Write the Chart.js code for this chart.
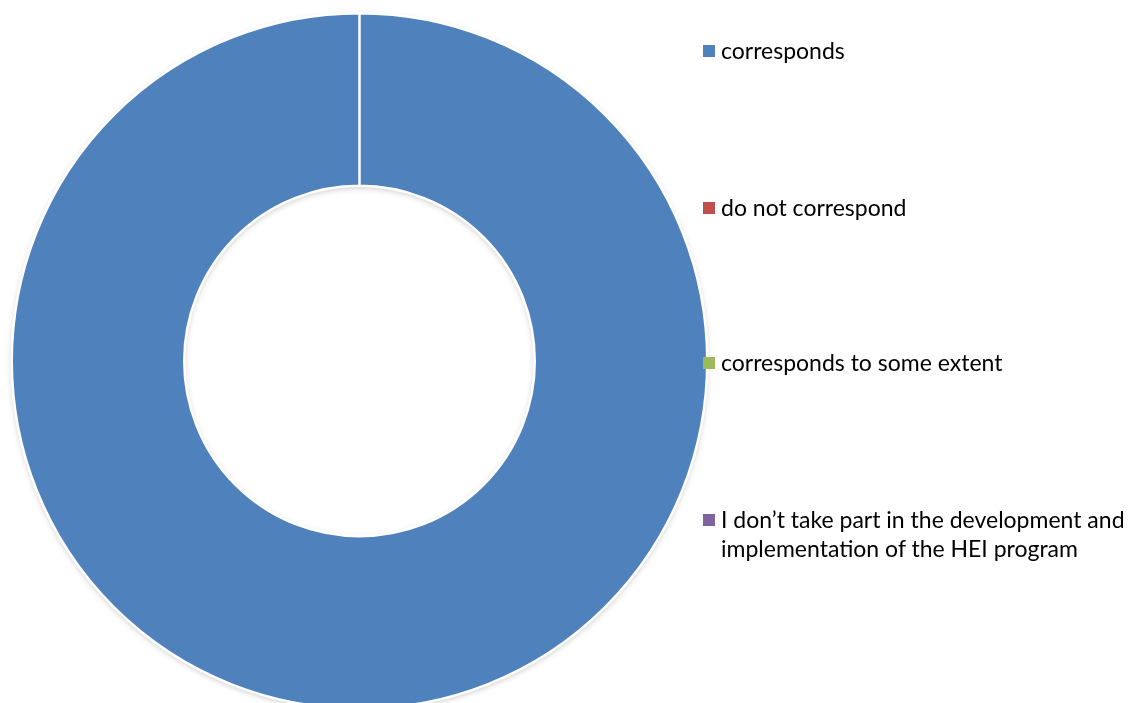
<!DOCTYPE html>
<html>
<head>
<meta charset="utf-8">
<script src="https://cdn.jsdelivr.net/npm/chart.js@4.4.1/dist/chart.umd.min.js"></script>
<style>
  html, body { margin: 0; padding: 0; width: 1135px; height: 703px; overflow: hidden; background: #fff; }
  #wrap { position: absolute; left: 0; top: 0; width: 720px; height: 720px; }
  #legend { position: absolute; left: 0; top: 0; width: 1135px; height: 703px; pointer-events: none;
            font-family: Lato, "Open Sans", sans-serif; font-size: 23px; line-height: 29px; color: #000; }
  .item { position: absolute; left: 721px; white-space: nowrap; }
  .box { position: absolute; width: 12px; height: 12px; }
</style>
</head>
<body>
<div id="wrap"><canvas id="c"></canvas></div>
<div id="legend"></div>
<script>
// Survey answers and their shares (percent)
const categories = [
  'corresponds',
  'do not correspond',
  'corresponds to some extent',
  ['I don\u2019t take part in the development and', 'implementation of the HEI program']
];
const shares = [100, 0, 0, 0];
const colors = ['#4F81BD', '#C0504D', '#9BBB59', '#8064A2'];

// Legend rows: vertical centre of the first text line for each entry
const legendRowCenters = [50, 207, 362, 519];

// Soft drop shadow under the ring, painted before the slices
const ringShadow = {
  id: 'ringShadow',
  beforeDatasetsDraw(chart) {
    const arc = chart.getDatasetMeta(0).data[0];
    if (!arc) return;
    const { x, y, outerRadius, innerRadius } = arc.getProps(['x', 'y', 'outerRadius', 'innerRadius'], true);
    const ctx = chart.ctx;
    ctx.save();
    ctx.shadowColor = 'rgba(0,0,0,0.28)';
    ctx.shadowBlur = 7;
    ctx.shadowOffsetY = 2;
    ctx.fillStyle = colors[0];
    ctx.beginPath();
    ctx.arc(x, y, outerRadius - 1, 0, Math.PI * 2, false);
    ctx.arc(x, y, innerRadius + 1, Math.PI * 2, 0, true);
    ctx.closePath();
    ctx.fill();
    ctx.restore();
  }
};

new Chart(document.getElementById('c'), {
  type: 'doughnut',
  data: {
    labels: categories,
    datasets: [{
      data: shares,
      backgroundColor: colors,
      borderColor: '#ffffff',
      borderWidth: 2.5
    }]
  },
  options: {
    responsive: true,
    maintainAspectRatio: false,
    animation: false,
    cutout: '50.4%',
    layout: { padding: { left: 10.5, top: 12, right: 11.5, bottom: 10 } },
    plugins: {
      legend: { display: false },
      tooltip: { enabled: false }
    }
  },
  plugins: [ringShadow]
});

// Legend built from the same category and colour arrays
const legend = document.getElementById('legend');
categories.forEach((label, i) => {
  const lines = Array.isArray(label) ? label : [label];
  const top = legendRowCenters[i] - 14.5;
  const item = document.createElement('div');
  item.className = 'item';
  item.style.top = top + 'px';
  item.innerHTML = lines.map(l => l.replace(/&/g, '&amp;').replace(/</g, '&lt;')).join('<br>');
  legend.appendChild(item);
  const box = document.createElement('div');
  box.className = 'box';
  box.style.left = '703px';
  box.style.top = (legendRowCenters[i] - 5.5) + 'px';
  box.style.background = colors[i];
  legend.appendChild(box);
});
</script>
</body>
</html>
